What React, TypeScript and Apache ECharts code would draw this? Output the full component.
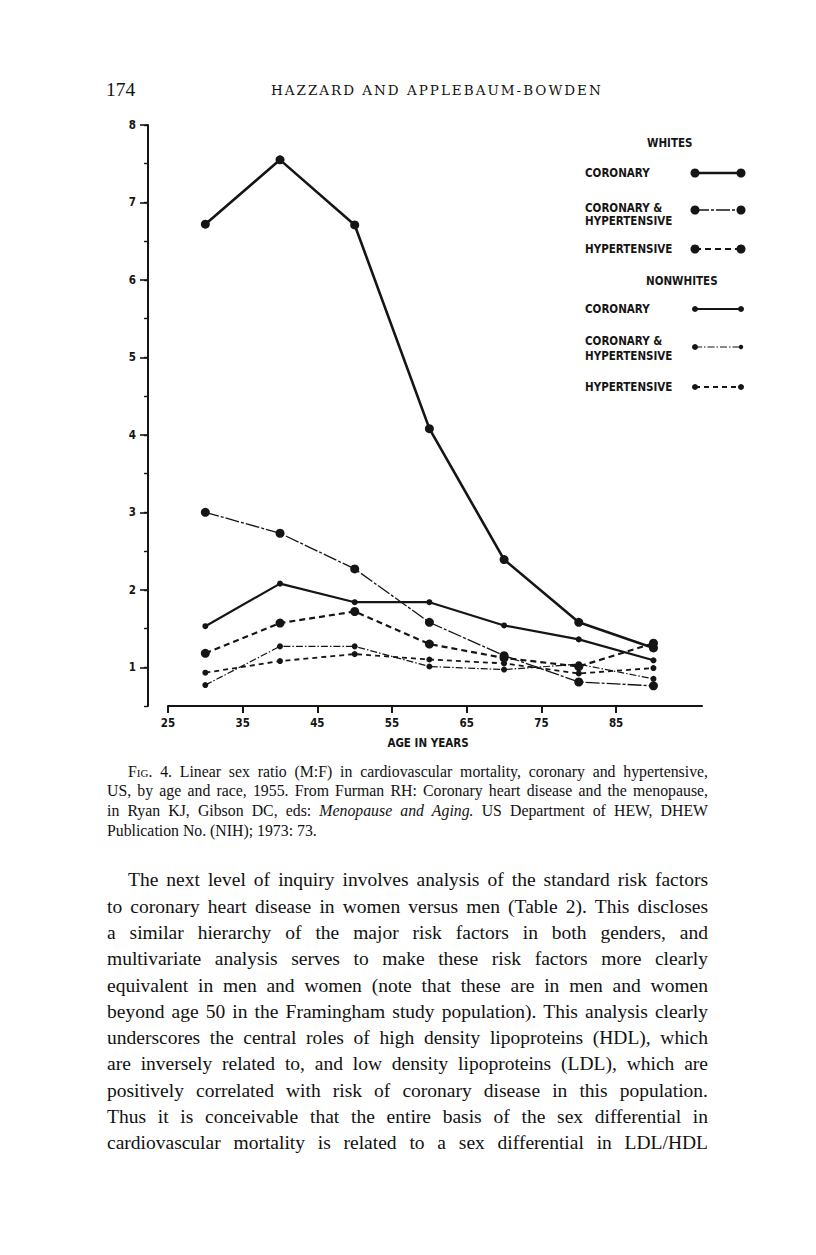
import React, { useEffect, useRef } from 'react';
import * as echarts from 'echarts';

// ---- data ----
const ages = [30, 40, 50, 60, 70, 80, 90];
const whitesCoronary = [6.72, 7.55, 6.71, 4.08, 2.39, 1.58, 1.25];
const whitesCorHyp = [3.0, 2.73, 2.27, 1.58, 1.15, 0.81, 0.76];
const whitesHyp = [1.18, 1.57, 1.72, 1.3, 1.12, 1.01, 1.31];
const nonwhitesCoronary = [1.53, 2.08, 1.84, 1.84, 1.54, 1.36, 1.09];
const nonwhitesCorHyp = [0.77, 1.27, 1.27, 1.01, 0.97, 1.04, 0.85];
const nonwhitesHyp = [0.93, 1.08, 1.17, 1.1, 1.05, 0.92, 0.99];
const xTickValues = [25, 35, 45, 55, 65, 75, 85];
const yTickValues = [1, 2, 3, 4, 5, 6, 7, 8];
const xAxisTitle = 'AGE IN YEARS';

const headerPage = '174';
const headerTitle = 'HAZZARD AND APPLEBAUM-BOWDEN';
const captionLines = [
  'FIG. 4. Linear sex ratio (M:F) in cardiovascular mortality, coronary and hypertensive,',
  'US, by age and race, 1955. From Furman RH: Coronary heart disease and the menopause,',
  'in Ryan KJ, Gibson DC, eds: Menopause and Aging. US Department of HEW, DHEW',
  'Publication No. (NIH); 1973: 73.',
];
const bodyLines = [
  'The next level of inquiry involves analysis of the standard risk factors',
  'to coronary heart disease in women versus men (Table 2). This discloses',
  'a similar hierarchy of the major risk factors in both genders, and',
  'multivariate analysis serves to make these risk factors more clearly',
  'equivalent in men and women (note that these are in men and women',
  'beyond age 50 in the Framingham study population). This analysis clearly',
  'underscores the central roles of high density lipoproteins (HDL), which',
  'are inversely related to, and low density lipoproteins (LDL), which are',
  'positively correlated with risk of coronary disease in this population.',
  'Thus it is conceivable that the entire basis of the sex differential in',
  'cardiovascular mortality is related to a sex differential in LDL/HDL',
];

const INK = '#151515';
const AXIS_FONT = '"DejaVu Sans Condensed", "DejaVu Sans", sans-serif';

type SeriesDef = {
  name: string;
  group: string;
  values: number[];
  width: number;
  dash: number[] | 'solid';
  dot: number;
};

const seriesDefs: SeriesDef[] = [
  { name: 'CORONARY', group: 'WHITES', values: whitesCoronary, width: 2.6, dash: 'solid', dot: 9 },
  { name: 'CORONARY &\nHYPERTENSIVE', group: 'WHITES', values: whitesCorHyp, width: 1.3, dash: [14, 2, 3, 2], dot: 9 },
  { name: 'HYPERTENSIVE', group: 'WHITES', values: whitesHyp, width: 2.2, dash: [6, 4], dot: 9 },
  { name: 'CORONARY', group: 'NONWHITES', values: nonwhitesCoronary, width: 2.2, dash: 'solid', dot: 6 },
  { name: 'CORONARY &\nHYPERTENSIVE', group: 'NONWHITES', values: nonwhitesCorHyp, width: 1.2, dash: [7, 2, 1.5, 2], dot: 6 },
  { name: 'HYPERTENSIVE', group: 'NONWHITES', values: nonwhitesHyp, width: 1.8, dash: [5, 4], dot: 6 },
];

// legend layout (positions only)
const legendRows = [
  { y: 173, labelYs: [173] },
  { y: 210, labelYs: [208, 221] },
  { y: 249, labelYs: [249] },
  { y: 309, labelYs: [309] },
  { y: 347, labelYs: [341, 356] },
  { y: 387, labelYs: [387] },
];

function buildLegend(): any[] {
  const els: any[] = [];
  const txt = (text: string, x: number, y: number) => ({
    type: 'text',
    x,
    y,
    style: {
      text,
      fill: INK,
      fontFamily: AXIS_FONT,
      fontWeight: 'bold',
      fontSize: 11.5,
      align: 'left',
      verticalAlign: 'middle',
    },
  });
  els.push(txt('WHITES', 647, 143));
  els.push(txt('NONWHITES', 646, 281));
  seriesDefs.forEach((s, i) => {
    const row = legendRows[i];
    const lines = s.name.split('\n');
    lines.forEach((l, k) => els.push(txt(l, 585, row.labelYs[k])));
    els.push({
      type: 'line',
      shape: { x1: 695, y1: row.y, x2: 741, y2: row.y },
      style: {
        stroke: INK,
        lineWidth: s.width,
        lineDash: s.dash === 'solid' ? null : s.dash,
      },
    });
    const r = s.dot / 2;
    els.push({ type: 'circle', shape: { cx: 695, cy: row.y, r }, style: { fill: INK } });
    els.push({
      type: 'circle',
      shape: { cx: 741, cy: row.y, r: i === 4 ? r - 0.8 : r },
      style: { fill: INK },
    });
  });
  return els;
}

function Chart() {
  const ref = useRef<HTMLDivElement>(null);
  useEffect(() => {
    if (!ref.current) return;
    const chart = echarts.init(ref.current, undefined, { renderer: 'svg' });
    const option: any = {
      animation: false,
      backgroundColor: 'transparent',
      grid: { left: 168, right: 114, top: 125, bottom: 549, containLabel: false },
      xAxis: {
        type: 'value',
        min: 25,
        max: 96.5,
        name: xAxisTitle,
        nameLocation: 'middle',
        nameGap: 31,
        nameTextStyle: {
          color: INK,
          fontFamily: AXIS_FONT,
          fontWeight: 'bold',
          fontSize: 11.5,
          padding: [0, 14, 0, 0],
        },
        axisLine: { show: true, lineStyle: { color: INK, width: 2 } },
        axisTick: { show: true, customValues: xTickValues, length: 7, lineStyle: { color: INK, width: 2 } },
        axisLabel: {
          customValues: xTickValues,
          margin: 11,
          color: INK,
          fontFamily: AXIS_FONT,
          fontWeight: 'bold',
          fontSize: 11.5,
        },
        splitLine: { show: false },
      },
      yAxis: [
        {
          type: 'value',
          min: 0.5,
          max: 8,
          position: 'left',
          offset: 20,
          axisLine: { show: true, lineStyle: { color: INK, width: 2 } },
          axisTick: { show: true, customValues: yTickValues, length: 8, lineStyle: { color: INK, width: 1.6 } },
          axisLabel: {
            customValues: yTickValues,
            margin: 12,
            color: INK,
            fontFamily: AXIS_FONT,
            fontWeight: 'bold',
            fontSize: 11.5,
          },
          splitLine: { show: false },
        },
        {
          type: 'value',
          min: 0.5,
          max: 8,
          interval: 0.5,
          position: 'left',
          offset: 20,
          axisLine: { show: false },
          axisTick: { show: true, length: 4, lineStyle: { color: INK, width: 1.4 } },
          axisLabel: { show: false },
          splitLine: { show: false },
        },
      ],
      series: seriesDefs.map((s) => ({
        type: 'line',
        name: s.group + ' ' + s.name.replace('\n', ' '),
        yAxisIndex: 0,
        data: ages.map((a, i) => [a, s.values[i]]),
        symbol: 'circle',
        symbolSize: s.dot,
        showSymbol: true,
        itemStyle: { color: INK },
        lineStyle: { color: INK, width: s.width, type: s.dash },
        emphasis: { disabled: true },
        z: 3,
      })),
      graphic: buildLegend(),
    };
    chart.setOption(option);
    return () => chart.dispose();
  }, []);
  return (
    <div
      ref={ref}
      style={{ position: 'absolute', left: 0, top: 0, width: 816, height: 1255 }}
    />
  );
}

function renderCaption(line: string) {
  if (line.startsWith('FIG.')) {
    return (
      <>
        <span style={{ fontVariant: 'small-caps' }}>Fig.</span>
        {line.slice(4)}
      </>
    );
  }
  const it = 'Menopause and Aging.';
  const idx = line.indexOf(it);
  if (idx >= 0) {
    return (
      <>
        {line.slice(0, idx)}
        <i>{it}</i>
        {line.slice(idx + it.length)}
      </>
    );
  }
  return line;
}

const SERIF = '"Liberation Serif", "DejaVu Serif", serif';

function TextLine(props: {
  y: number;
  left: number;
  right: number;
  size: number;
  justify: boolean;
  children: any;
}) {
  const lh = props.size * 1.3;
  return (
    <div
      style={{
        position: 'absolute',
        left: props.left,
        width: props.right - props.left,
        top: props.y - lh / 2,
        height: lh,
        lineHeight: lh + 'px',
        fontFamily: SERIF,
        fontSize: props.size,
        color: '#111',
        whiteSpace: 'nowrap',
        textAlign: props.justify ? 'justify' : 'left',
        textAlignLast: props.justify ? 'justify' : 'left',
      }}
    >
      {props.children}
    </div>
  );
}

export default function App() {
  return (
    <div style={{ position: 'absolute', left: 0, top: 0, width: 816, height: 1255, background: '#fff' }}>
      <Chart />
      <TextLine y={90} left={106} right={160} size={19.5} justify={false}>
        {headerPage}
      </TextLine>
      <div
        style={{
          position: 'absolute',
          left: 271,
          top: 79,
          height: 22,
          lineHeight: '22px',
          fontFamily: '"DejaVu Serif", serif',
          fontSize: 13.5,
          letterSpacing: 2.0,
          color: '#111',
          whiteSpace: 'nowrap',
        }}
      >
        {headerTitle}
      </div>
      {captionLines.map((l, i) => (
        <TextLine
          key={'c' + i}
          y={772 + i * 19.7}
          left={i === 0 ? 128 : 107}
          right={708}
          size={15.8}
          justify={i !== captionLines.length - 1}
        >
          {renderCaption(l)}
        </TextLine>
      ))}
      {bodyLines.map((l, i) => (
        <TextLine
          key={'b' + i}
          y={880 + i * 26.3}
          left={i === 0 ? 128 : 107}
          right={708}
          size={19.5}
          justify={true}
        >
          {l}
        </TextLine>
      ))}
    </div>
  );
}
